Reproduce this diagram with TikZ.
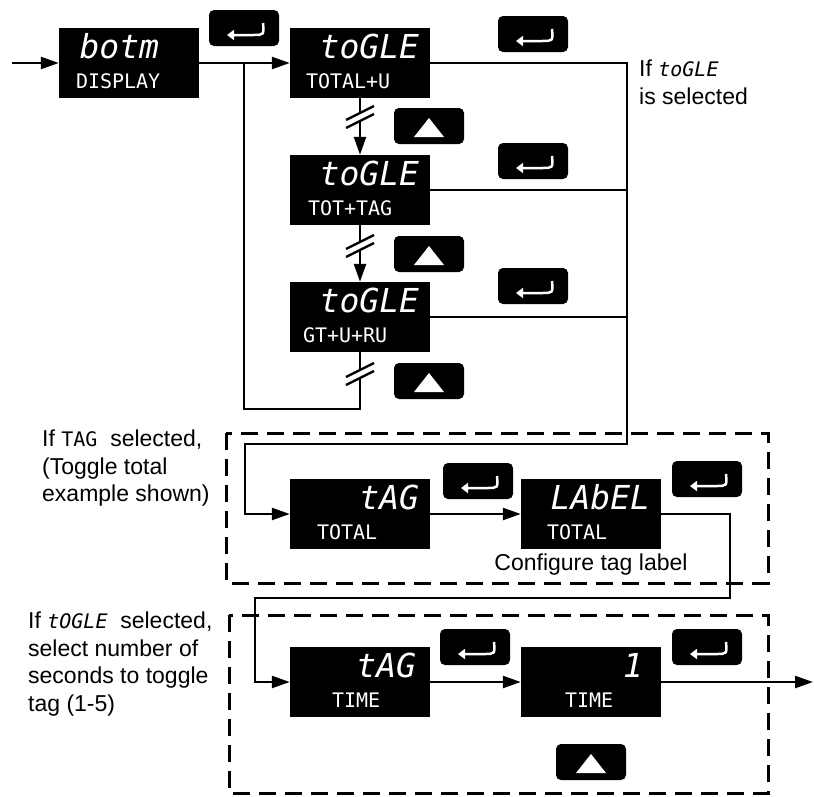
\documentclass[tikz,border=0pt]{standalone}
\usepackage{fontspec}
\setmainfont{Liberation Sans}
\newfontfamily\segfont{DejaVu Sans Mono}
\usetikzlibrary{arrows.meta,calc}

% seven-segment style text inside the running labels
\newcommand{\segsl}[1]{{\segfont\itshape\fontsize{20}{20}\selectfont #1}}
\newcommand{\segup}[1]{{\segfont\fontsize{20}{20}\selectfont #1}}

\tikzset{
  disp/.style={fill=black, minimum width=140pt, minimum height=70pt, inner sep=0pt},
  btn/.style={fill=black, rounded corners=5pt, minimum width=70pt, minimum height=36pt, inner sep=0pt},
  segbig/.style={text=white, font=\segfont\itshape\fontsize{33}{33}\selectfont, inner sep=0pt},
  segsmall/.style={text=white, font=\segfont\fontsize{20}{20}\selectfont, inner sep=0pt},
  lbl/.style={font=\fontsize{23}{27.5}\selectfont, align=left, inner sep=0pt},
  wire/.style={line width=2.4pt},
  flow/.style={wire, -{Triangle[length=18pt,width=12pt]}},
  frame/.style={line width=3pt, dash pattern=on 17pt off 9pt},
  entarrow/.style={white, line width=2.5pt, -{Triangle[length=7pt,width=10pt]}}
}

\begin{document}
\begin{tikzpicture}[x=1pt,y=-1pt]
  \useasboundingbox (0,0) rectangle (814,796);

  % dashed groups
  \draw[frame] (226,433) rectangle (768,583);
  \draw[frame] (229,615) rectangle (768,793);

  % displays
  \foreach \nm/\px/\py/\txa/\toff/\txb/\boff in {
      botdisp/129/63/botm/-40/DISPLAY/17,
      togA/360/63/toGLE/-11/TOTAL+U/16,
      togB/360/190/toGLE/-11/TOT+TAG/18,
      togC/360/317/toGLE/-11/GT+U+RU/13,
      tagtot/360/514/tAG/-11/TOTAL/27,
      labtot/591/514/LAbEL/-11/TOTAL/26,
      tagtime/360/682/tAG/-14/TIME/42,
      timeval/591/682/1/-18/TIME/44}{
    \node[disp] (\nm) at (\px,\py) {};
    \node[segbig, anchor=base east] (\nm-a) at ($(\nm.north east)+(\toff,31)$) {\txa};
    \node[segsmall, anchor=base west] (\nm-b) at ($(\nm.north west)+(\boff,61)$) {\txb};
  }

  % enter keys
  \foreach \nm/\px/\py in {ent1/244/28, ent2/533/34, ent3/533/161, ent4/533/286,
      ent5/478/481, ent6/707/479, ent7/475/647, ent8/707/647}{
    \node[btn] (\nm) at (\px,\py) {};
    \draw[entarrow] (\px+19,\py-5) .. controls (\px+20,\py+7) .. (\px+9,\py+7) -- (\px-17,\py+7);
  }

  % up keys
  \foreach \nm/\px/\py in {up1/429/126, up2/429/254, up3/429/381, up4/591/762}{
    \node[btn] (\nm) at (\px,\py) {};
    \fill[white] (\px,\py-8) -- (\px+15,\py+11) -- (\px-15,\py+11) -- cycle;
  }

  \coordinate (start) at (12,63);
  \coordinate (rbus) at (627,444);
  \coordinate (lbus) at (245,444);
  \coordinate (loopc) at (244,409);
  \coordinate (rdrop) at (730,598);
  \coordinate (ldrop) at (255,598);
  \coordinate (out) at (813,682);

  \draw[flow] (start) -- (botdisp.west);
  \draw[flow] (botdisp.east) -- (togA.west);
  \draw[wire] (togC.south) |- (loopc) -- (loopc |- togA.west);
  \draw[flow] (togA.south) -- (togB.north);
  \draw[flow] (togB.south) -- (togC.north);
  \draw[flow] (togA.east) -| (rbus) -- (lbus) |- (tagtot.west);
  \draw[wire] (togB.east) -- (togB.east -| rbus);
  \draw[wire] (togC.east) -- (togC.east -| rbus);
  \draw[flow] (tagtot.east) -- (labtot.west);
  \draw[flow] (labtot.east) -| (rdrop) -- (ldrop) |- (tagtime.west);
  \draw[flow] (tagtime.east) -- (timeval.west);
  \draw[flow] (timeval.east) -- (out);

  % breaks in the scroll lines
  \foreach \bx/\by in {360/117, 360/246, 360/374}{
    \draw[white, line width=6pt] (\bx-14,\by+7) -- (\bx+14,\by-7);
    \draw[line width=2.3pt] (\bx-14,\by+3) -- (\bx+14,\by-11);
    \draw[line width=2.3pt] (\bx-14,\by+11) -- (\bx+14,\by-3);
  }

  % notes
  \node[lbl, anchor=north west] (iftog) at (639,60) {If \segsl{toGLE}\\is selected};
  \node[lbl, anchor=north west] (iftag) at (42,430) {If \segup{TAG}\ \ selected,\\(Toggle total\\example shown)};
  \node[lbl, anchor=north west] (iftime) at (28,612) {If \segsl{tOGLE}\ \ selected,\\select number of\\seconds to toggle\\tag (1-5)};
  \node[lbl, anchor=base] (cfg) at (591,570) {Configure tag label};
\end{tikzpicture}
\end{document}
